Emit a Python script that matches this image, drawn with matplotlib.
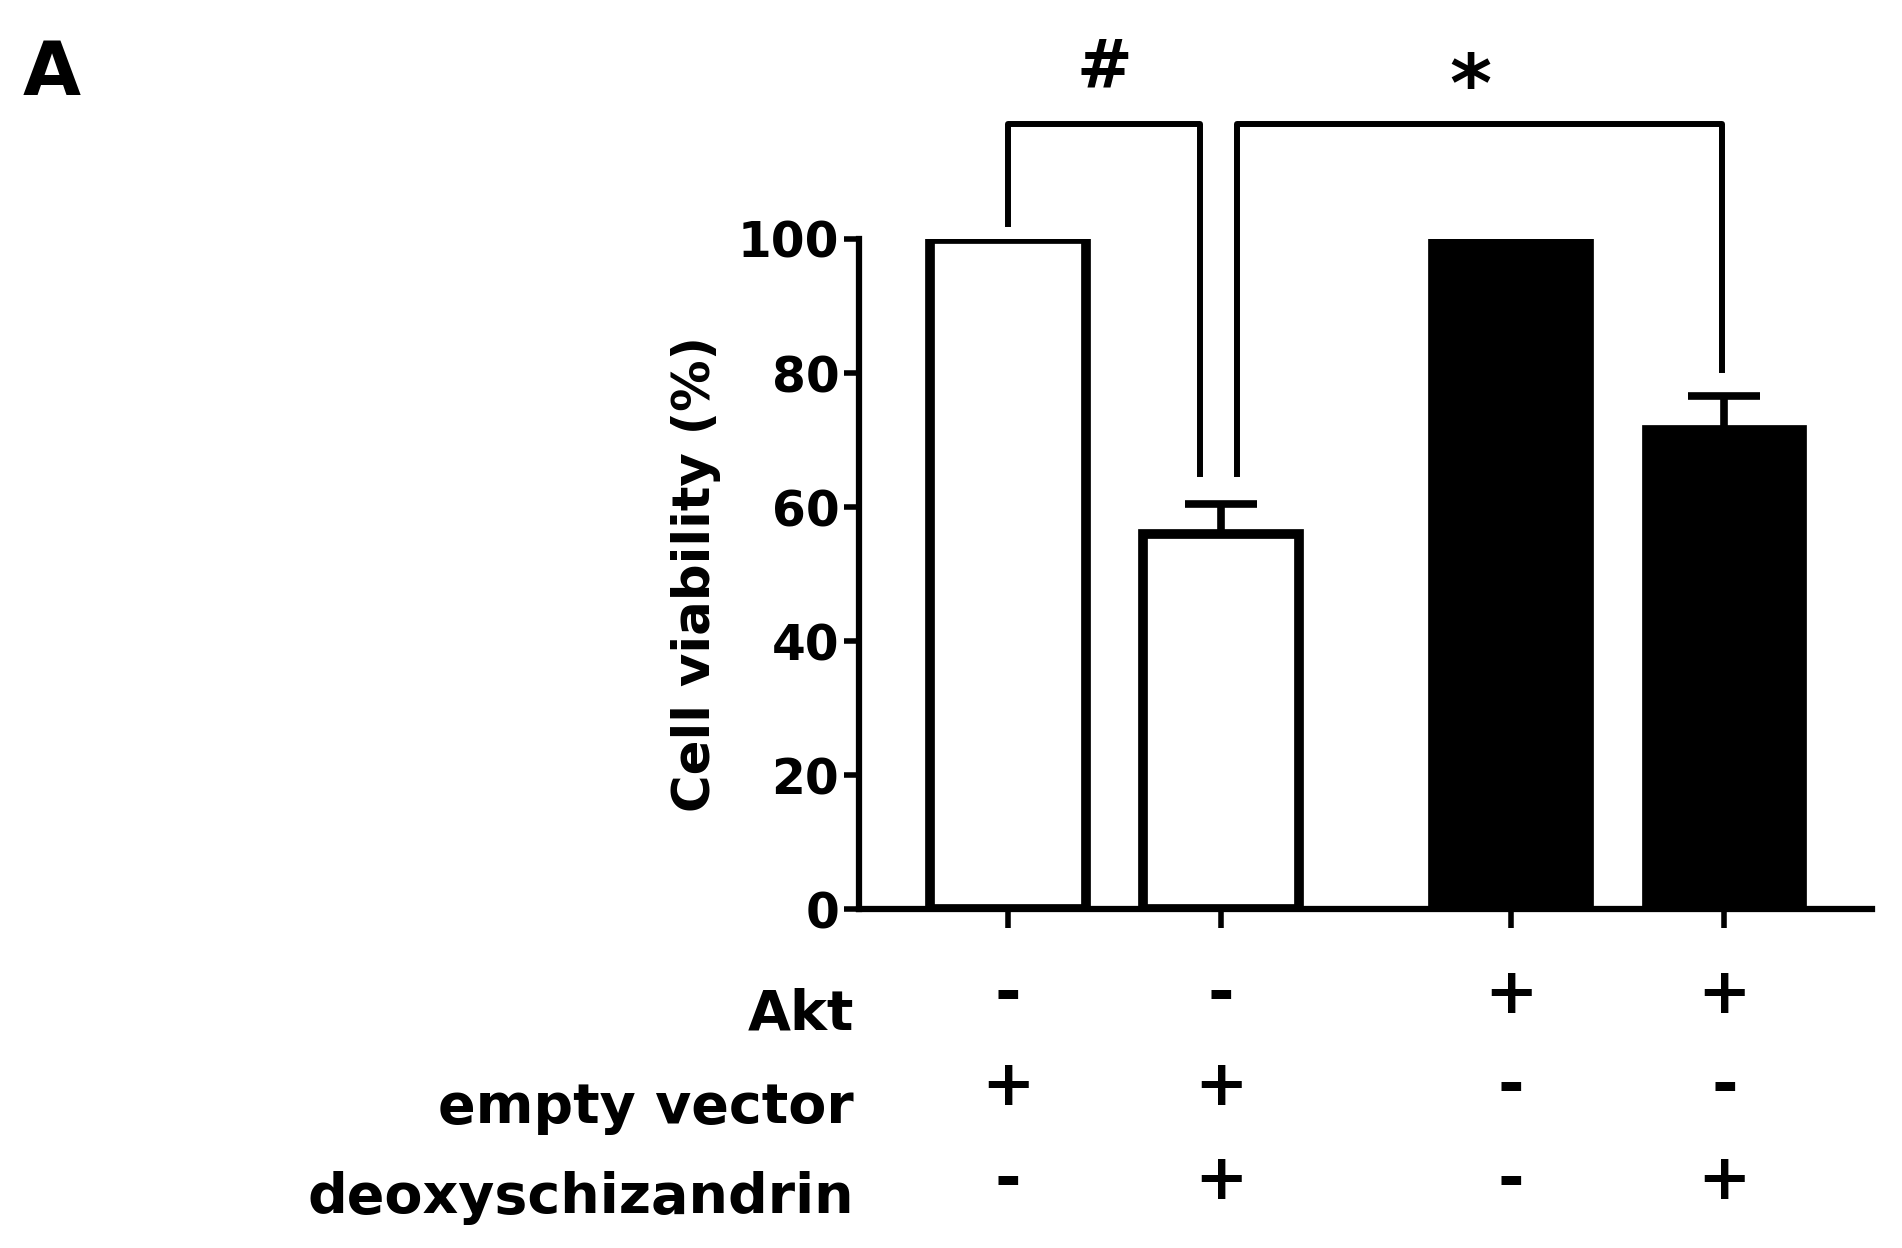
import matplotlib
matplotlib.use("Agg")
import matplotlib.pyplot as plt
from matplotlib.transforms import blended_transform_factory

plt.rcParams['font.family'] = ['DejaVu Sans']
plt.rcParams['font.weight'] = 'bold'

# datos
grupos = ["Akt", "empty vector", "deoxyschizandrin"]
posiciones = [0, 1, 2.36, 3.36]
viabilidad = [100, 56, 100, 71.5]
error_sup = [0, 4.5, 0, 5]
colores = ["white", "white", "black", "black"]
signos = [
    ["-", "-", "+", "+"],
    ["+", "+", "-", "-"],
    ["-", "+", "-", "+"],
]
marcas = ["#", "*"]

fig = plt.figure(figsize=(19.02, 12.48), dpi=100)
ax = fig.add_axes([0.4515, 0.2715, 0.5325, 0.537])

for x, v, e, c in zip(posiciones, viabilidad, error_sup, colores):
    if e > 0:
        ax.errorbar(x, v, yerr=[[0], [e]], fmt="none", ecolor="black",
                    elinewidth=5.5, capsize=26, capthick=5.5, zorder=1)
    ax.bar(x, v, width=0.73, color=c, edgecolor="black", linewidth=7, zorder=2)

ax.set_xlim(-0.70, 4.05)
ax.set_ylim(0, 100)
ax.set_yticks([0, 20, 40, 60, 80, 100])
ax.set_xticks(posiciones)
ax.set_xticklabels([])
ax.tick_params(axis="y", width=4, length=11, labelsize=35, pad=3)
ax.tick_params(axis="x", width=4, length=14)
ax.spines["top"].set_visible(False)
ax.spines["right"].set_visible(False)
ax.spines["left"].set_linewidth(4.5)
ax.spines["bottom"].set_linewidth(4.5)
ax.set_ylabel("Cell viability (%)", fontsize=37, fontweight="bold", labelpad=12)

# corchetes de significancia
lw = 4.3
ax.plot([0, 0, 0.90, 0.90], [102.2, 117.2, 117.2, 65], color="black", lw=lw, clip_on=False)
ax.plot([1.075, 1.075, 3.35, 3.35], [65, 117.2, 117.2, 80.4], color="black", lw=lw, clip_on=False)
ax.text(0.45, 120.5, marcas[0], ha="center", va="bottom", fontsize=48, clip_on=False)
ax.text(2.17, 116.5, marcas[1], ha="center", va="bottom", fontsize=58, clip_on=False)

# tabla de condiciones
trans = blended_transform_factory(ax.transData, fig.transFigure)
fila_y = [0.203, 0.129, 0.054]
nombre_y = [0.187, 0.112, 0.040]
for fila, nombre, y, yn in zip(signos, grupos, fila_y, nombre_y):
    fig.text(0.449, yn, nombre, ha="right", va="center", fontsize=40)
    for x, s in zip(posiciones, fila):
        ax.text(x, y, s, transform=trans, ha="center", va="center", fontsize=46)

fig.text(0.012, 0.94, "A", ha="left", va="center", fontsize=54)

fig.savefig("out.png", dpi=100)
